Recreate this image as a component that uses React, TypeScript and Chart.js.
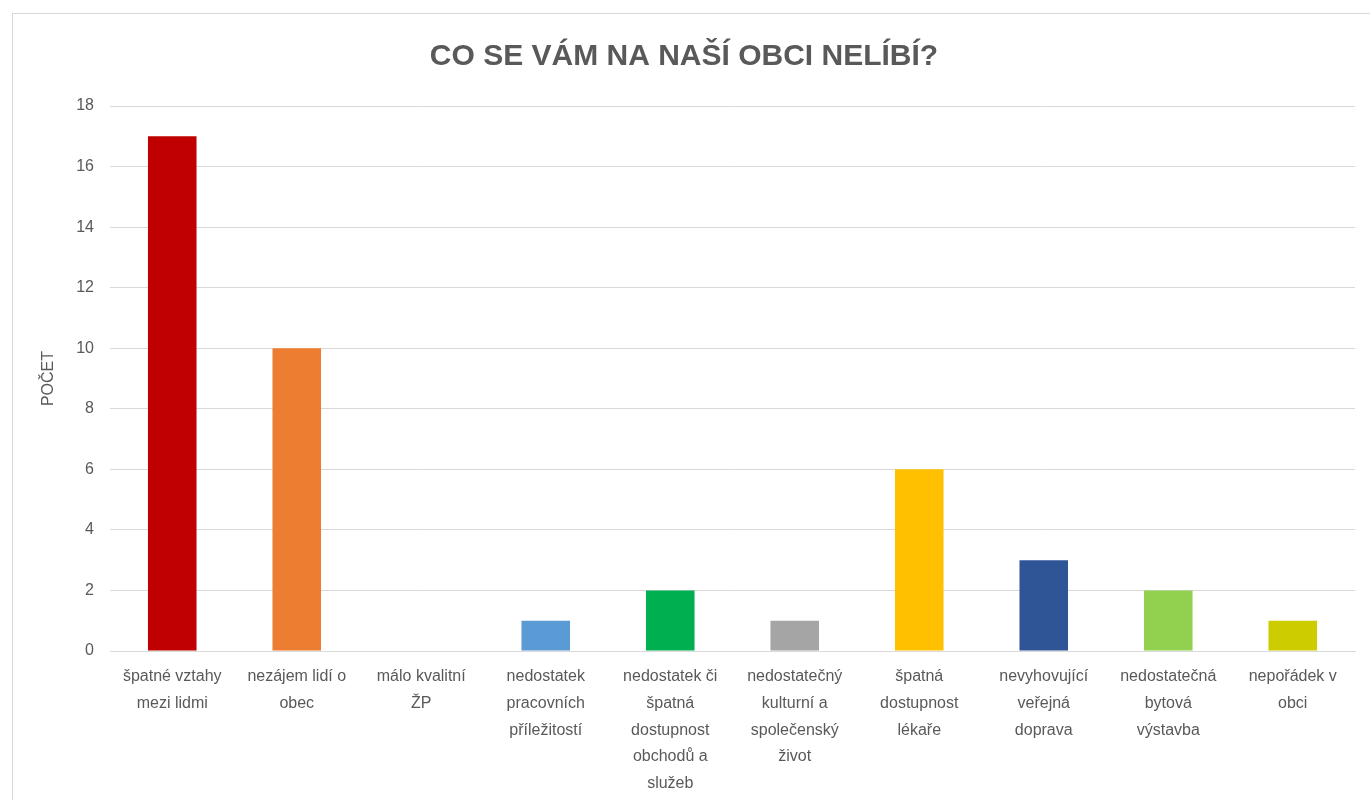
import React, { useEffect, useRef } from "react";
import { Chart, registerables } from "chart.js";

Chart.register(...registerables);

const TITLE = "CO SE VÁM NA NAŠÍ OBCI NELÍBÍ?";
const Y_TITLE = "POČET";

const categories: string[][] = [
  ["špatné vztahy", "mezi lidmi"],
  ["nezájem lidí o", "obec"],
  ["málo kvalitní", "ŽP"],
  ["nedostatek", "pracovních", "příležitostí"],
  ["nedostatek či", "špatná", "dostupnost", "obchodů a", "služeb"],
  ["nedostatečný", "kulturní a", "společenský", "život"],
  ["špatná", "dostupnost", "lékaře"],
  ["nevyhovující", "veřejná", "doprava"],
  ["nedostatečná", "bytová", "výstavba"],
  ["nepořádek v", "obci"],
];

const values: number[] = [17, 10, 0, 1, 2, 1, 6, 3, 2, 1];

const colors: string[] = [
  "#C00000",
  "#ED7D31",
  "#7F7F7F",
  "#5B9BD5",
  "#00B050",
  "#A5A5A5",
  "#FFC000",
  "#2F5597",
  "#92D050",
  "#CCCC00",
];

const yTicks = { min: 0, max: 18, step: 2 };

const FONT = "'Liberation Sans', Arial, sans-serif";

export default function App() {
  const ref = useRef<HTMLCanvasElement | null>(null);

  useEffect(() => {
    document.body.style.margin = "0";
    document.body.style.overflow = "hidden";
    if (!ref.current) return;
    const chart = new Chart(ref.current, {
      type: "bar",
      data: {
        labels: categories,
        datasets: [
          {
            data: values,
            backgroundColor: colors,
            barPercentage: 0.39,
            categoryPercentage: 1,
          },
        ],
      },
      options: {
        animation: false,
        responsive: false,
        maintainAspectRatio: false,
        layout: { padding: { left: 0, right: 14, top: 0, bottom: 0 } },
        plugins: {
          legend: { display: false },
          tooltip: { enabled: false },
          title: {
            display: true,
            text: TITLE,
            color: "#595959",
            font: { family: FONT, size: 30, weight: "bold", lineHeight: 1.2 },
            padding: { top: 25, bottom: 31 },
          },
        },
        scales: {
          x: {
            grid: { display: false },
            border: { display: true, color: "#d9d9d9", width: 1 },
            ticks: {
              color: "#595959",
              font: { family: FONT, size: 16, lineHeight: 1.68 },
              maxRotation: 0,
              minRotation: 0,
              autoSkip: false,
              padding: 4,
            },
            afterFit: (s: any) => {
              s.height = 149;
            },
          },
          y: {
            min: yTicks.min,
            max: yTicks.max,
            grid: { color: "#d9d9d9", drawTicks: false },
            border: { display: false },
            ticks: {
              stepSize: yTicks.step,
              color: "#595959",
              font: { family: FONT, size: 16 },
              padding: 16,
            },
            title: {
              display: true,
              text: Y_TITLE,
              color: "#595959",
              font: { family: FONT, size: 16 },
              padding: { top: 26, bottom: 0 },
            },
            afterFit: (s: any) => {
              s.width = 97;
            },
          },
        },
      },
    });
    return () => chart.destroy();
  }, []);

  return (
    <div style={{ position: "relative", width: 1370, height: 800, overflow: "hidden", background: "#fff" }}>
      <div
        style={{
          position: "absolute",
          left: 12,
          top: 13,
          width: 1370,
          height: 800,
          border: "1px solid #d9d9d9",
          boxSizing: "border-box",
        }}
      >
        <canvas ref={ref} width={1356} height={786} style={{ display: "block" }} />
      </div>
    </div>
  );
}
